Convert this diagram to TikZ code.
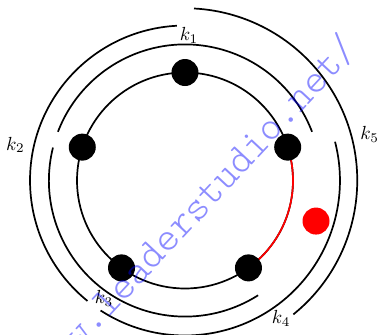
\documentclass[tikz,border=0pt]{standalone}
\begin{document}
\begin{tikzpicture}[
  ring/.style={line width=0.9pt},
  vtx/.style={circle,fill=black,inner sep=0pt,minimum size=0.5cm},
  lab/.style={inner sep=1pt},
  wmark/.style={rotate=47,text=blue,text opacity=0.45,inner sep=0pt,font=\fontfamily{lmtt}\fontseries{l}\fontsize{21.7}{26}\selectfont}
]
\useasboundingbox (-3.426,-2.861) rectangle (3.593,3.343);
\coordinate (O) at (0,0);
\draw[ring] (O) circle (2);
\draw[ring,red] (18:2) arc (18:-54:2);
% k arcs
\draw[ring] (21:2.52) arc (21:159:2.52);
\draw[ring] (93:2.87) arc (93:231:2.87);
\draw[ring] (166:2.52) arc (166:302.5:2.52);
\draw[ring] (237:2.87) arc (237:374.5:2.87);
\draw[ring] (-51:3.19) arc (-51:87:3.19);
% vertices
\node[vtx] (v1) at (90:2) {};
\node[vtx] (v2) at (162:2) {};
\node[vtx] (v3) at (234:2) {};
\node[vtx] (v4) at (306:2) {};
\node[vtx] (v5) at (18:2) {};
\node[vtx,fill=red] (rd) at (-17.2:2.54) {};
% labels
\node[lab] (l1) at (0.074,2.69) {$k_1$};
\node[lab] (l2) at (-3.14,0.66) {$k_2$};
\node[lab] (l3) at (-1.5,-2.19) {$k_3$};
\node[lab] (l4) at (1.78,-2.56) {$k_4$};
\node[lab] (l5) at (3.42,0.86) {$k_5$};
% watermark
\node[wmark] (wm) at (0.19,-0.5) {www.leaderstudio.net/};
\end{tikzpicture}
\end{document}
